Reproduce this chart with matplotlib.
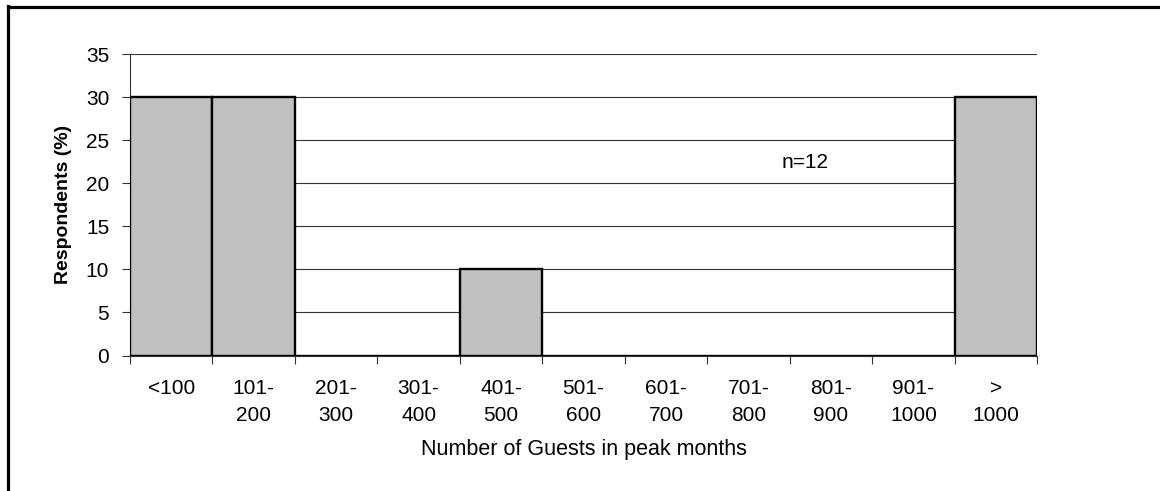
import matplotlib.pyplot as plt
from matplotlib.lines import Line2D

categories = ["<100", "101-\n200", "201-\n300", "301-\n400", "401-\n500", "501-\n600",
              "601-\n700", "701-\n800", "801-\n900", "901-\n1000", ">\n1000"]
respondents = [30, 30, 0, 0, 10, 0, 0, 0, 0, 0, 30]
y_ticks = [0, 5, 10, 15, 20, 25, 30, 35]

plt.rcParams['font.family'] = ['Liberation Sans', 'DejaVu Sans']

fig = plt.figure(figsize=(11.6, 4.91), dpi=100)
ax = fig.add_axes([130 / 1160, 1 - 355.5 / 491, (1037 - 130) / 1160, (355.5 - 54) / 491])

x = list(range(len(categories)))
ax.bar(x, respondents, width=1.0, color='#c0c0c0', edgecolor='black', linewidth=1.7, zorder=3)

ax.set_xlim(-0.5, len(categories) - 0.5)
ax.set_ylim(0, 35)
ax.set_yticks(y_ticks)
ax.yaxis.grid(True, color='#333333', linewidth=0.8, zorder=0)
ax.set_axisbelow(True)

# labels centred in the categories, tick marks at the category edges
ax.set_xticks(x)
ax.set_xticklabels(categories, fontsize=15, linespacing=1.5)
ax.tick_params(axis='x', which='major', length=0, pad=17)
ax.set_xticks([i - 0.5 for i in range(len(categories) + 1)], minor=True)
ax.tick_params(axis='x', which='minor', length=6, width=0.8, color='#333333')
ax.tick_params(axis='y', length=6, width=0.8, color='#333333', labelsize=15, pad=9)

for side in ['top', 'right']:
    ax.spines[side].set_visible(False)
for side in ['left', 'bottom']:
    ax.spines[side].set_color('#333333')
    ax.spines[side].set_linewidth(0.8)

ax.set_xlabel("Number of Guests in peak months", fontsize=15.5, labelpad=10)
ax.set_ylabel("Respondents (%)", fontsize=14, fontweight='bold', labelpad=10)

ax.text(7.69, 22.4, "n=12", fontsize=15, ha='center', va='center')

# outer frame (only top and left edges visible in the original)
fig.add_artist(Line2D([7.5 / 1160, 7.5 / 1160], [0, 1 - 6 / 491], color='black', linewidth=2.3))
fig.add_artist(Line2D([7.5 / 1160, 1], [1 - 6.5 / 491, 1 - 6.5 / 491], color='black', linewidth=2.3))

fig.savefig("out.png", dpi=100)
